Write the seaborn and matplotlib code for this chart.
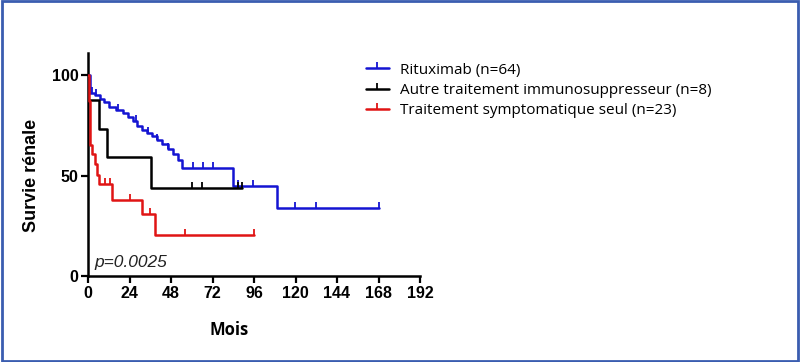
# Kaplan-Meier style plot: renal survival by treatment group

import numpy as np
import matplotlib
matplotlib.use("Agg")
import matplotlib.pyplot as plt
from matplotlib.lines import Line2D
from matplotlib.patches import Rectangle
import pandas as pd
import seaborn as sns

# Rituximab (n=64): step times (months) and survival (%)
ritux_t = [0, 1, 4, 7, 9, 12, 16, 20, 23, 26, 28.5, 31, 34, 37, 40, 43, 46, 49, 52, 54.5, 84, 109.5, 168.5]
ritux_s = [100, 91, 90, 88, 86.5, 84, 82.5, 81, 79, 77, 74.5, 72.5, 71, 69.5, 67.5, 65.5, 63, 60.5, 57.5, 54, 45, 34, 34]
ritux_cens = [2.5, 4.5, 17.5, 28, 34.7, 40, 46.3, 61, 66.7, 72.5, 87, 95.6, 119.7, 131.9, 168.5]

# Autre traitement immunosuppresseur (n=8)
autre_t = [0, 0.2, 6.6, 11.2, 36.2, 89]
autre_s = [100, 87.5, 73, 59, 43.7, 43.7]
autre_cens = [60.3, 65.8, 87, 89]

# Traitement symptomatique seul (n=23)
sympt_t = [0, 0.3, 1.0, 2.3, 4.0, 5.0, 6.5, 14, 31.5, 39, 96]
sympt_s = [100, 87, 65, 60.5, 55.5, 50.5, 46, 38, 31, 20.5, 20.5]
sympt_cens = [9.8, 12.7, 24, 35.8, 56, 96]

groups = ["Rituximab (n=64)",
          "Autre traitement immunosuppresseur (n=8)",
          "Traitement symptomatique seul (n=23)"]
colors = ["#1414d2", "#000000", "#e01414"]

x_ticks = [0, 24, 48, 72, 96, 120, 144, 168, 192]
y_ticks = [0, 50, 100]

sns.set_style("ticks")
plt.rcParams['font.family'] = ['Liberation Sans', 'DejaVu Sans']

fig = plt.figure(figsize=(8, 3.62), dpi=100)
ax = fig.add_axes([0.11, 0.2376, 0.415, 0.616])

curves = [(ritux_t, ritux_s, ritux_cens), (autre_t, autre_s, autre_cens), (sympt_t, sympt_s, sympt_cens)]
for (t, s, cens), name, col in zip(curves, groups, colors):
    df = pd.DataFrame({'Mois': t, 'Survie': s})
    sns.lineplot(data=df, x='Mois', y='Survie', ax=ax, color=col, lw=1.8,
                 drawstyle='steps-post', estimator=None, sort=False, zorder=3)
    # survival value at each censor time
    idx = np.searchsorted(t, cens, side='right') - 1
    cy = np.array(s)[idx]
    ax.plot(cens, cy, linestyle='none', marker=2, markersize=4, mew=1.3, color=col, zorder=4)

ax.set_xlim(0, 192)
ax.set_ylim(0, 111)
ax.set_xticks(x_ticks)
ax.set_yticks(y_ticks)
for sp in ['top', 'right']:
    ax.spines[sp].set_visible(False)
for sp in ['left', 'bottom']:
    ax.spines[sp].set_linewidth(1.8)
    ax.spines[sp].set_color('black')
ax.tick_params(axis='both', length=5, width=1.6, color='black', labelcolor='black',
               labelsize=11.5, pad=2)
for lab in ax.get_xticklabels() + ax.get_yticklabels():
    lab.set_fontweight('bold')

ax.set_xlabel('Mois', fontsize=12, fontweight='bold', color='black',
              family=['Open Sans', 'DejaVu Sans'])
ax.set_ylabel('Survie rénale', fontsize=13, fontweight='bold', color='black')
ax.xaxis.set_label_coords(0.425, -0.2)
ax.yaxis.set_label_coords(-0.145, 0.45)

ax.text(3.5, 6.5, 'p=0.0025', fontsize=12.5, style='italic', va='center', ha='left',
        color='#222222')

handles = [Line2D([0], [0], color=c, lw=1.8, marker=2, markersize=4, mew=1.3) for c in colors]
leg = fig.legend(handles, groups, loc='upper left', bbox_to_anchor=(0.44, 0.865),
                 frameon=False, handlelength=1.5, handletextpad=0.75, labelspacing=0.35,
                 prop={'family': ['Open Sans', 'DejaVu Sans'], 'size': 11})
for txt in leg.get_texts():
    txt.set_color('black')

# blue frame around the picture
fig.patches.append(Rectangle((0.002, 0.003), 0.996, 0.994, transform=fig.transFigure,
                             fill=False, edgecolor='#3a5db0', lw=2))

fig.savefig('out.png', dpi=100)
